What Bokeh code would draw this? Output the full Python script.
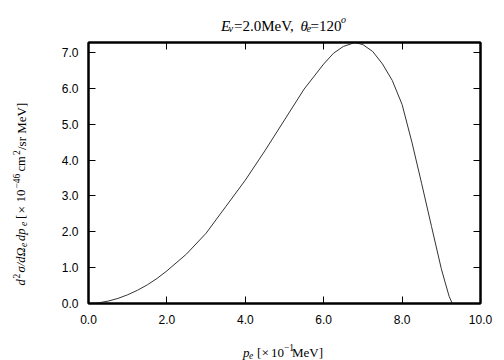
import math
from bokeh.plotting import figure
from bokeh.models import Range1d, LinearAxis, FixedTicker, PrintfTickFormatter
from bokeh.layouts import column, row
from bokeh.core.properties import value
from bokeh.embed import file_html
from bokeh.resources import INLINE

# data
pe = [0.0, 0.25, 0.5, 0.75, 1.0, 1.25, 1.5, 1.75, 2.0, 2.5, 3.0, 3.5, 4.0, 4.5,
      5.0, 5.5, 6.0, 6.25, 6.5, 6.8, 7.0, 7.25, 7.5, 7.75, 8.0, 8.25, 8.5, 8.75,
      9.0, 9.1, 9.2, 9.28]
xs = [0.0, 0.018, 0.066, 0.141, 0.244, 0.37, 0.52, 0.70, 0.91, 1.38, 1.96, 2.70,
      3.44, 4.26, 5.12, 5.98, 6.68, 6.98, 7.17, 7.28, 7.22, 7.03, 6.68, 6.22,
      5.55, 4.50, 3.34, 2.15, 0.97, 0.58, 0.20, 0.0]
x_ticks = [0, 2, 4, 6, 8, 10]
y_ticks = [0, 1, 2, 3, 4, 5, 6, 7]

SERIF = "Liberation Serif"
TITLE_H = 36          # title strip: screen y 0..36
XLAB_H = 30           # x-label strip: screen y 330..360
ROW_H = 360 - TITLE_H - XLAB_H
BT, BB = 6, 27        # plot frame spans screen y 42..303


def text_fig(w, h, x0, x1, y_top, y_bot, bt=0, bb=0):
    f = figure(width=w, height=h, output_backend="svg", toolbar_location=None,
               title=None,
               x_range=Range1d(x0, x1), y_range=Range1d(y_bot, y_top),
               x_axis_location=None, y_axis_location=None,
               min_border=0, min_border_left=0, min_border_right=0,
               min_border_top=bt, min_border_bottom=bb)
    f.outline_line_color = None
    f.xgrid.visible = False
    f.ygrid.visible = False
    f.background_fill_color = "white"
    f.border_fill_color = "white"
    return f


def txt(f, sx, sy, s, size, italic=False, angle=0.0):
    f.text(x=[sx], y=[sy], text=[s], text_font=value(SERIF),
           text_font_style=value("italic" if italic else "normal"),
           text_font_size=value(f"{size}px"), text_color="black",
           text_baseline=value("alphabetic"), text_align=value("left"),
           angle=angle)


# ---- main plot ----
p = figure(width=464, height=ROW_H, output_backend="svg", toolbar_location=None,
           title=None,
           x_range=Range1d(0, 10), y_range=Range1d(0, 7.28),
           min_border_left=48, min_border_right=24, min_border_top=BT,
           min_border_bottom=BB)
p.background_fill_color = "white"
p.border_fill_color = "white"
p.outline_line_color = "black"
p.outline_line_width = 2
p.xgrid.visible = False
p.ygrid.visible = False

p.line(pe, xs, line_color="#333333", line_width=1)


def style(ax, labels=True, standoff=8):
    ax.major_tick_in = 7
    ax.major_tick_out = 0
    ax.minor_tick_line_color = None
    ax.axis_line_color = "black"
    ax.axis_line_width = 2
    ax.major_tick_line_color = "black"
    ax.major_tick_line_width = 1
    ax.major_label_text_font = "Liberation Sans"
    ax.major_label_text_font_size = "12px"
    ax.major_label_text_color = "black"
    ax.major_label_standoff = standoff
    if not labels:
        ax.major_label_text_font_size = "0px"
        ax.major_label_text_color = None
        ax.major_label_standoff = 0


for ax in p.xaxis:
    ax.ticker = FixedTicker(ticks=x_ticks)
    ax.formatter = PrintfTickFormatter(format="%.1f")
    style(ax, standoff=11)
for ax in p.yaxis:
    ax.ticker = FixedTicker(ticks=y_ticks)
    ax.formatter = PrintfTickFormatter(format="%.1f")
    style(ax, standoff=10)

top = LinearAxis(ticker=FixedTicker(ticks=x_ticks))
style(top, labels=False)
p.add_layout(top, "above")
right = LinearAxis(ticker=FixedTicker(ticks=y_ticks))
style(right, labels=False)
p.add_layout(right, "right")

# ---- title ----
t = text_fig(504, TITLE_H, 0, 504, 0, TITLE_H)
txt(t, 220.5, 25, "E", 15, True)
txt(t, 228.0, 28, "ν", 10.5, True)
txt(t, 233.5, 25, "=2.0MeV,", 15)
txt(t, 300.0, 25, "θ", 15, True)
txt(t, 306.0, 28, "e", 10.5, True)
txt(t, 310.0, 25, "=120", 15)
txt(t, 340.5, 19, "o", 10, True)

# ---- y label (screen x 0..40, frame spans screen y 42..303) ----
yl = text_fig(40, ROW_H, 0, 40, TITLE_H + BT, TITLE_H + ROW_H - BB, bt=BT, bb=BB)
A = math.pi / 2
BX = 20.5
FS, SS = 12.5, 9.5
txt(yl, BX, 285, "d", FS, True, A)
txt(yl, BX - 5, 278, "2", SS, False, A)
txt(yl, BX, 272, "σ/dΩ", FS, True, A)
txt(yl, BX + 2.5, 246.5, "e", SS, True, A)
txt(yl, BX, 240.5, "dp", FS, True, A)
txt(yl, BX + 2.5, 225.5, "e", SS, True, A)
txt(yl, BX, 218.5, "[", FS, False, A)
txt(yl, BX, 213.0, "×", 13.5, False, A)
txt(yl, BX, 202.0, "10", 13, False, A)
txt(yl, BX - 5, 188, "−46", SS, False, A)
txt(yl, BX, 171, "cm", FS, False, A)
txt(yl, BX - 5, 154.5, "2", SS, False, A)
txt(yl, BX, 149.5, "/sr MeV]", 13, False, A)

# ---- x label ----
xl = text_fig(504, XLAB_H, 0, 504, 360 - XLAB_H, 360)
txt(xl, 242.5, 352, "p", 13, True)
txt(xl, 248.5, 354.5, "e", 9.5, True)
txt(xl, 256.5, 352, "[", 13)
txt(xl, 261.0, 352, "×", 13.5)
txt(xl, 270.5, 352, "10", 13)
txt(xl, 283.5, 346.5, "−1", 9.5)
txt(xl, 291.5, 352, "MeV]", 13)

layout = column(t, row(yl, p, spacing=0), xl, spacing=0)
open("out.html", "w").write(file_html(layout, INLINE))
